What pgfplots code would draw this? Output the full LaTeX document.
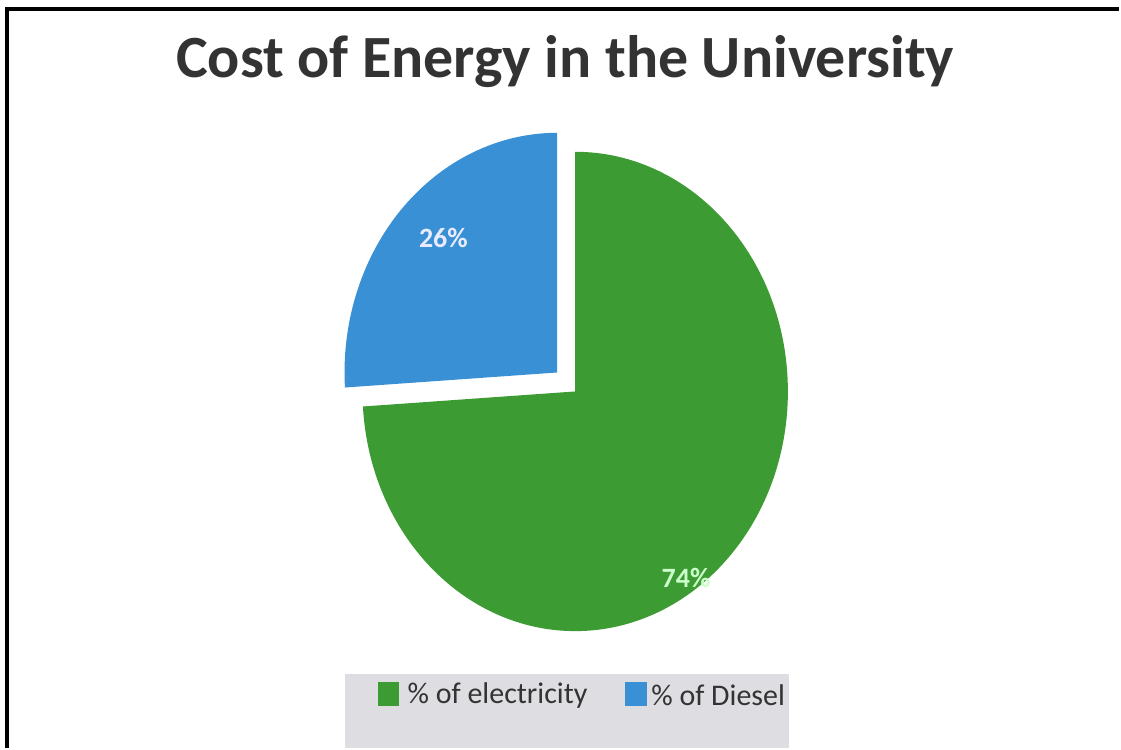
\documentclass[border=0pt]{standalone}
\usepackage{pgfplots}
\pgfplotsset{compat=1.18}
\usepackage{fontspec}
\setmainfont{Carlito}

\definecolor{elecgreen}{HTML}{3D9B33}
\definecolor{dieselblue}{HTML}{3A90D4}
\definecolor{titlegray}{HTML}{333333}
\definecolor{legbox}{HTML}{DEDEE2}

% shares of the cost (percent)
\def\elec{74}
\def\diesel{26}

\begin{document}
\begin{tikzpicture}
\pgfmathsetmacro{\elecangle}{3.6*\elec}
\pgfmathsetmacro{\dieselangle}{3.6*\diesel}
\begin{axis}[
  scale only axis,
  width=840.75pt, height=561.75pt,
  xmin=0, xmax=1121, ymin=0, ymax=749,
  y dir=reverse,
  hide axis,
  clip=false,
]
\path (axis cs:0,0) rectangle (axis cs:1121,749);
% frame
\draw[line width=2.4pt, black] (axis cs:7,749) -- (axis cs:7,9) -- (axis cs:1121,9);

% title
\node[text=titlegray, font=\fontsize{45}{50}\selectfont\bfseries] at (axis cs:566,62) {Cost of Energy in the University};

% electricity slice
\fill[elecgreen] (axis cs:576,392) -- ++(90:180pt)
  arc[start angle=90, delta angle=-\elecangle, x radius=159.75pt, y radius=180pt] -- cycle;
% diesel slice (exploded)
\fill[dieselblue] (axis cs:558,373) -- ++(90:180pt)
  arc[start angle=90, delta angle=\dieselangle, x radius=159.75pt, y radius=180pt] -- cycle;

% data labels
\node[text=white!92!blue, font=\fontsize{21}{24}\selectfont\bfseries] at (axis cs:444,238) {\diesel\%};
\node[text=white!80!green, font=\fontsize{21}{24}\selectfont\bfseries] at (axis cs:687,579) {\elec\%};

% legend
\fill[legbox] (axis cs:345,675) rectangle (axis cs:790,749);
\fill[elecgreen] (axis cs:379,683) rectangle (axis cs:400,707);
\node[anchor=west, inner sep=0pt, text=titlegray, font=\fontsize{22.5}{26}\selectfont] at (axis cs:408,696) {\% of electricity};
\fill[dieselblue] (axis cs:626,683) rectangle (axis cs:648,707);
\node[anchor=west, inner sep=0pt, text=titlegray, font=\fontsize{22.5}{26}\selectfont] at (axis cs:652,696) {\% of Diesel};
\end{axis}
\end{tikzpicture}
\end{document}
